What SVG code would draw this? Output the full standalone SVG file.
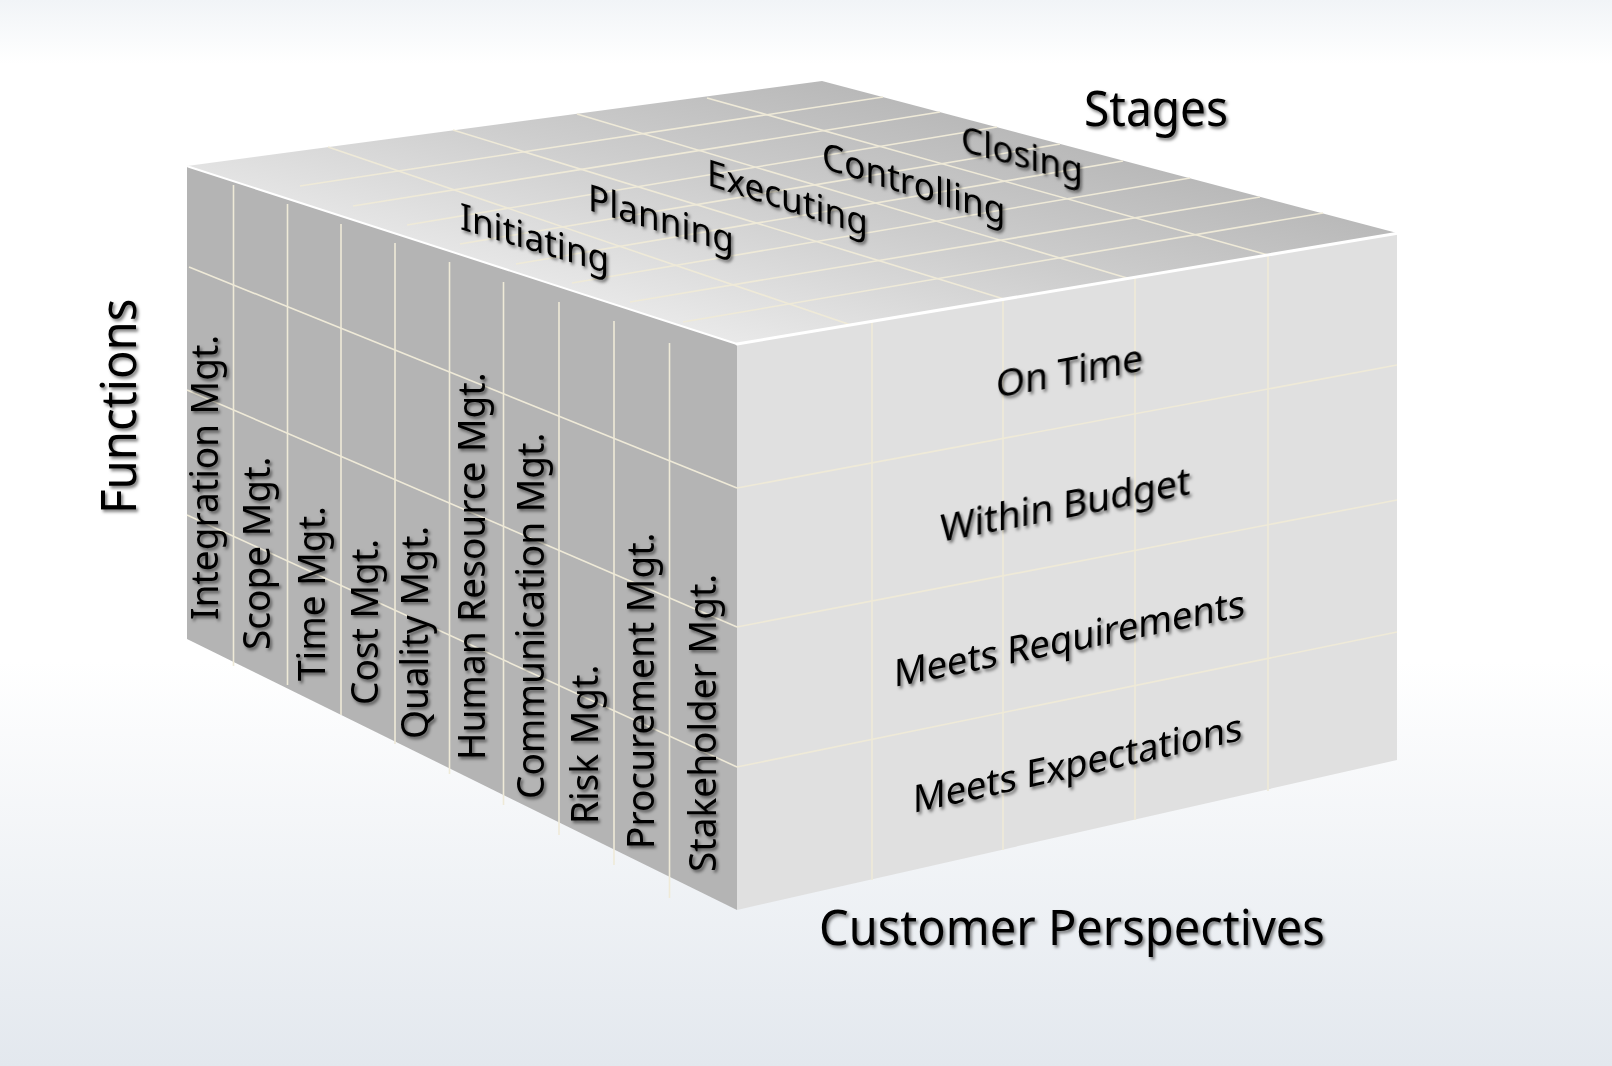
<svg xmlns="http://www.w3.org/2000/svg" width="1612" height="1066" viewBox="0 0 1612 1066">
<defs>
<linearGradient id="bg" x1="0" y1="0" x2="0" y2="1066" gradientUnits="userSpaceOnUse">
<stop offset="0" stop-color="#f1f4f7"/>
<stop offset="0.06" stop-color="#ffffff"/>
<stop offset="0.62" stop-color="#ffffff"/>
<stop offset="1" stop-color="#e3e8ee"/>
</linearGradient>
<linearGradient id="topg" x1="737" y1="344" x2="806" y2="77" gradientUnits="userSpaceOnUse">
<stop offset="0" stop-color="#e9e9e9"/>
<stop offset="0.55" stop-color="#cdcdcd"/>
<stop offset="1" stop-color="#b9b9b9"/>
</linearGradient>
<filter id="sh" x="-10%" y="-20%" width="130%" height="150%">
<feDropShadow dx="2" dy="2.5" stdDeviation="1.7" flood-color="#000" flood-opacity="0.5"/>
</filter>
<style>
.t{font-family:"Noto Sans","Open Sans","Liberation Sans",sans-serif;fill:#000}
.big{font-size:49px}
.fn{font-size:39px}
.st{font-size:37px}
.cp{font-size:38px}
.g{stroke:#efead8;stroke-width:1.6;fill:none}
.hl{stroke:#ffffff;fill:none;stroke-linecap:round}
</style>
</defs>
<rect x="0" y="0" width="1612" height="1066" fill="url(#bg)"/>

<g id="cube">
<polygon id="left-face" points="187,166 737,344 737,910 187,639" fill="#b4b4b4"/>
<polygon id="front-face" points="737,344 1397,233 1397,760 737,910" fill="#e0e0e0"/>
<polygon id="top-face" points="187,166 822,81 1397,233 737,344" fill="url(#topg)"/>
</g>

<g id="grid">
<g id="top-grid" class="g">
<line x1="328" y1="147" x2="851" y2="325"/>
<line x1="453" y1="130" x2="1004" y2="299"/>
<line x1="577" y1="114" x2="1127" y2="278"/>
<line x1="707" y1="98" x2="1268" y2="255"/>
<line x1="300" y1="186" x2="883" y2="97"/>
<line x1="353" y1="206" x2="940" y2="112"/>
<line x1="407" y1="225" x2="997" y2="127"/>
<line x1="460" y1="244" x2="1060" y2="144"/>
<line x1="516" y1="264" x2="1123" y2="161"/>
<line x1="572" y1="283" x2="1190" y2="178"/>
<line x1="630" y1="302" x2="1260" y2="197"/>
<line x1="683" y1="322" x2="1323" y2="213"/>
</g>
<g id="left-grid" class="g">
<line x1="233.5" y1="185" x2="233.5" y2="666"/>
<line x1="287.5" y1="204" x2="287.5" y2="685"/>
<line x1="341" y1="224" x2="341" y2="715"/>
<line x1="395" y1="243" x2="395" y2="744"/>
<line x1="449.5" y1="262" x2="449.5" y2="774"/>
<line x1="503.5" y1="282" x2="503.5" y2="805"/>
<line x1="559" y1="302" x2="559" y2="835"/>
<line x1="614" y1="321" x2="614" y2="865"/>
<line x1="669.5" y1="343" x2="669.5" y2="898"/>
<line x1="189" y1="267" x2="737" y2="488"/>
<line x1="187" y1="390" x2="737" y2="627"/>
<line x1="187" y1="515" x2="737" y2="767"/>
</g>
<g id="front-grid" class="g">
<line x1="872" y1="321" x2="872" y2="880"/>
<line x1="1003" y1="299" x2="1003" y2="850"/>
<line x1="1135" y1="277" x2="1135" y2="820"/>
<line x1="1268" y1="255" x2="1268" y2="791"/>
<line x1="737" y1="488" x2="1397" y2="365"/>
<line x1="737" y1="627" x2="1397" y2="500"/>
<line x1="737" y1="767" x2="1397" y2="632"/>
</g>
<line class="hl" x1="188" y1="166.5" x2="737" y2="344" stroke-width="2"/>
<line class="hl" x1="737" y1="344" x2="1396" y2="233.5" stroke-width="3"/>
</g>

<g id="labels" filter="url(#sh)">
<text class="t big" transform="translate(1084,126) scale(0.94,1)">Stages</text>
<text class="t big" transform="translate(819,945) scale(0.96,1)">Customer Perspectives</text>
<text class="t big" transform="translate(136,514) rotate(-90) scale(0.965,1)">Functions</text>

<g id="stages" class="t st">
<text transform="translate(460,229) skewY(16.7) scale(0.95,1)">Initiating</text>
<text transform="translate(588,210) skewY(16.7) scale(0.95,1)">Planning</text>
<text transform="translate(707,185) skewY(17.7) scale(0.95,1)">Executing</text>
<text transform="translate(822,168) skewY(17.2) scale(0.95,1)">Controlling</text>
<text transform="translate(961,151) skewY(15.1) scale(0.95,1)">Closing</text>
</g>

<g id="functions" class="t fn">
<text transform="translate(218,620) rotate(-90) scale(0.95,1)">Integration Mgt.</text>
<text transform="translate(270,650) rotate(-90) scale(0.95,1)">Scope Mgt.</text>
<text transform="translate(325,681) rotate(-90) scale(0.95,1)">Time Mgt.</text>
<text transform="translate(378,705) rotate(-90) scale(0.95,1)">Cost Mgt.</text>
<text transform="translate(428,739) rotate(-90) scale(0.95,1)">Quality Mgt.</text>
<text transform="translate(485,760) rotate(-90) scale(0.95,1)">Human Resource Mgt.</text>
<text transform="translate(544,799) rotate(-90) scale(0.95,1)">Communication Mgt.</text>
<text transform="translate(598,824) rotate(-90) scale(0.95,1)">Risk Mgt.</text>
<text transform="translate(654,849) rotate(-90) scale(0.95,1)">Procurement Mgt.</text>
<text transform="translate(716,872) rotate(-90) scale(0.95,1)">Stakeholder Mgt.</text>
</g>

<g id="perspectives" class="t cp">
<text transform="translate(996,398) skewY(-10.5) scale(0.975,1)">On Time</text>
<text transform="translate(940,542) skewY(-10.8) scale(0.98,1)">Within Budget</text>
<text transform="translate(894,687) skewY(-11.4) scale(0.95,1)">Meets Requirements</text>
<text transform="translate(913,813) skewY(-12.5) scale(0.95,1)">Meets Expectations</text>
</g>
</g>
</svg>
